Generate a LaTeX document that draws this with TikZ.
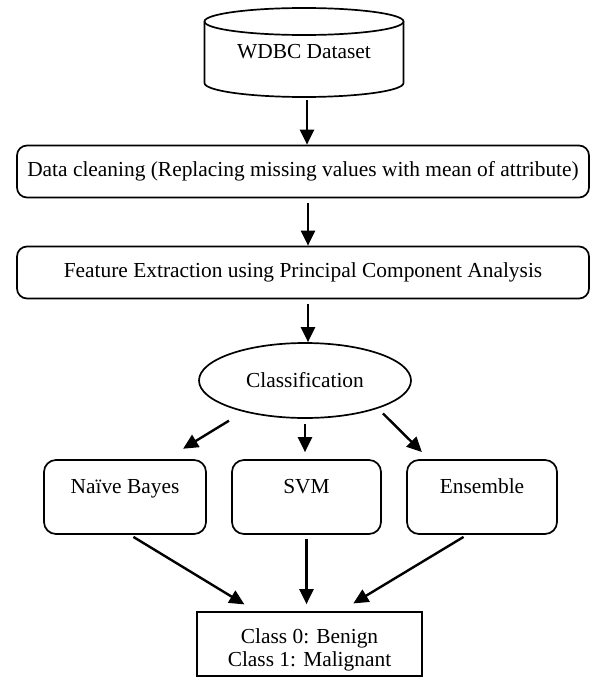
\documentclass[tikz,border=0pt]{standalone}
\usepackage{fontspec}
\setmainfont{Liberation Serif}
\usetikzlibrary{shapes}
\usetikzlibrary{arrows.meta}
\tikzset{
	flownode/.style = {
		align=center,
		font=\fontsize{21.4}{23.7}\selectfont,
		line width=1.7pt,
		draw=black
	},
	node_step/.style = {
		flownode,
		rectangle,
		rounded corners=10pt,
		minimum width=572pt,
		minimum height=52pt,
		inner sep=0pt
	},
	node_cls/.style = {
		flownode,
		ellipse,
		minimum width=212pt,
		minimum height=75pt,
		inner sep=0pt
	},
	node_algo/.style = {
		flownode,
		rectangle,
		rounded corners=12pt,
		inner xsep=0pt,
		inner ysep=3pt,
		text height=30pt,
		text depth=38pt
	},
	node_out/.style = {
		flownode,
		rectangle,
		inner sep=0pt,
		text height=54.7pt,
		text depth=9.3pt
	},
	flow/.style = {
		line width=2.4pt
	}
}

\begin{document}
\begin{tikzpicture}[x=1pt, y=-1pt, ->, >={Triangle[length=15pt,width=14pt]}]
\useasboundingbox (0,0) rectangle (590,680);

% dataset drum
\draw[line width=1.7pt, -] (304,21.5) ellipse [x radius=99.5pt, y radius=13.5pt];
\draw[line width=1.7pt, -] (204.5,21.5) -- (204.5,83)
	arc[start angle=180, end angle=360, x radius=99.5pt, y radius=14pt] -- (403.5,21.5);
\node[flownode, draw=none] (data) at (304,52) {WDBC Dataset};
\coordinate (dbot) at (307,97);

% pipeline
\node[node_step] (clean) at (303,171.5) {Data cleaning (Replacing missing values with mean of attribute)};
\node[node_step] (pca) at (303,272.5) {Feature Extraction using Principal Component Analysis};
\node[node_cls] (cls) at (305,380.5) {Classification};

\node[node_algo, minimum width=162pt] (nb) at (125,497) {Naïve Bayes};
\node[node_algo, minimum width=149pt] (svm) at (306.5,497) {SVM};
\node[node_algo, minimum width=150pt] (ens) at (482,497) {Ensemble};

\node[node_out, minimum width=225pt] (out) at (309.5,644)
	{\parbox[b]{220pt}{\centering Class 0: Benign\\Class 1: Malignant}};

% arrows
\draw[flow, shorten <=3pt] (dbot) -- (dbot |- clean.north);
\draw[flow, shorten <=5pt] ([xshift=5pt]clean.south) -- ([xshift=5pt]pca.north);
\draw[flow, shorten <=5pt] ([xshift=5pt]pca.south) -- ([xshift=5pt]pca.south |- cls.north);

\draw[flow, shorten <=17pt, shorten >=20pt] (cls.207) -- ([xshift=41pt]nb.north);
\draw[flow, shorten <=5pt, shorten >=7pt] (cls.south) -- (cls.south |- svm.north);
\draw[flow, shorten <=7pt, shorten >=10pt] (cls.339) -- ([xshift=-53pt]ens.north);

\draw[flow, shorten <=4pt, shorten >=13pt] ([xshift=5pt]nb.south) -- ([xshift=-54pt]out.north);
\draw[flow, shorten <=4pt, shorten >=7pt] (svm.south) -- (svm.south |- out.north);
\draw[flow, shorten <=4pt, shorten >=15pt] ([xshift=-15pt]ens.south) -- ([xshift=31pt]out.north);
\end{tikzpicture}
\end{document}
